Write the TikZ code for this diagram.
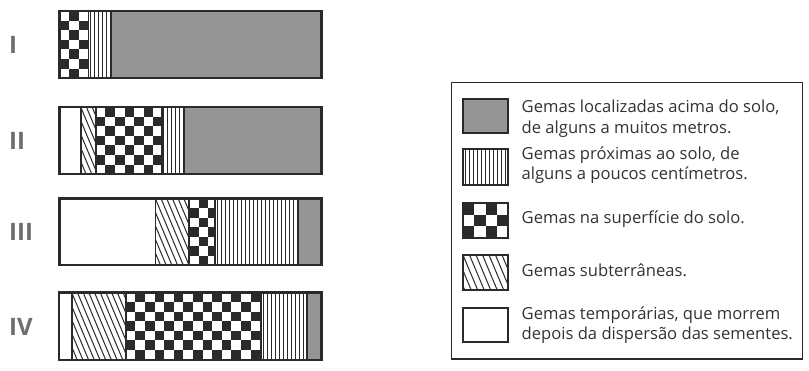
\documentclass[tikz,border=0pt]{standalone}
\usepackage{fontspec}
\setmainfont{Open Sans}
\definecolor{barfill}{HTML}{959595}
\definecolor{ink}{HTML}{2A2A2A}
\definecolor{txt}{HTML}{333333}
\definecolor{lbl}{HTML}{6E6E6E}
\tikzset{
  outline/.style={draw=ink, line width=2.2pt},
  sepline/.style={draw=ink, line width=1.6pt},
  hatchline/.style={draw=ink, line width=1.0pt},
  vline/.style={draw=ink, line width=0.8pt},
  legtext/.style={anchor=base west, text=txt, font=\fontsize{16.6}{20}\selectfont, inner sep=0pt},
  rowlabel/.style={anchor=base west, text=lbl, font=\bfseries\fontsize{24}{30}\selectfont, inner sep=0pt},
}
% #1 x1, #2 x2, #3 y1, #4 y2
\newcommand\grayseg[4]{\fill[barfill] (#1,#3) rectangle (#2,#4);}
\newcommand\vlineseg[4]{%
  \begin{scope}\clip (#1,#3) rectangle (#2,#4);
    \fill[white] (#1,#3) rectangle (#2,#4);
    \foreach \i in {0,...,30}{\draw[vline] (#1+2+4*\i,#3) -- (#1+2+4*\i,#4);}
  \end{scope}}
% #5 square size, #6 parity
\newcommand\checkseg[6]{%
  \begin{scope}\clip (#1,#3) rectangle (#2,#4);
    \fill[white] (#1,#3) rectangle (#2,#4);
    \foreach \i in {0,...,15}{\foreach \j in {0,...,7}{%
      \ifodd\numexpr\i+\j+#6\relax
        \fill[ink] (#1+#5*\i,#3+#5*\j) rectangle ++(#5,#5);
      \fi}}
  \end{scope}}
% #5 horizontal spacing
\newcommand\hatchseg[5]{%
  \begin{scope}\clip (#1,#3) rectangle (#2,#4);
    \fill[white] (#1,#3) rectangle (#2,#4);
    \foreach \i in {-12,...,30}{\draw[hatchline] (#1+#5*\i,#3) -- ++(0.42*#4-0.42*#3,#4-#3);}
  \end{scope}}
\begin{document}
\begin{tikzpicture}[x=1pt,y=-1pt]
\useasboundingbox (0,0) rectangle (809,371);
\fill[white] (0,0) rectangle (809,371);
% ---------- Bar I ----------
\checkseg{59.5}{88.3}{11}{78}{9.6}{0}
\vlineseg{88.3}{111}{11}{78}
\grayseg{111}{321.5}{11}{78}
\draw[sepline] (88.3,11) -- (88.3,78) (111,11) -- (111,78);
\draw[outline] (59.5,11) rectangle (321.5,78);
% ---------- Bar II ----------
\hatchseg{80.7}{95.7}{107}{174}{5.7}
\checkseg{95.7}{161.7}{107}{174}{9.6}{0}
\vlineseg{161.7}{184}{107}{174}
\grayseg{184}{321.5}{107}{174}
\draw[sepline] (80.7,107) -- (80.7,174) (95.7,107) -- (95.7,174) (161.7,107) -- (161.7,174) (184,107) -- (184,174);
\draw[outline] (59.5,107) rectangle (321.5,174);
% ---------- Bar III ----------
\hatchseg{155.3}{189}{198.5}{265.3}{5.7}
\checkseg{189}{215}{198.5}{265.3}{9.6}{0}
\vlineseg{215}{298.3}{198.5}{265.3}
\grayseg{298.3}{321.5}{198.5}{265.3}
\draw[sepline] (155.3,198.5) -- (155.3,265.3) (189,198.5) -- (189,265.3) (215,198.5) -- (215,265.3) (298.3,198.5) -- (298.3,265.3);
\draw[outline] (59.5,198.5) rectangle (321.5,265.3);
% ---------- Bar IV ----------
\hatchseg{71.7}{125.7}{292.5}{360}{5.7}
\checkseg{125.7}{261}{292.5}{360}{9.6}{0}
\vlineseg{261}{306.7}{292.5}{360}
\grayseg{306.7}{321.5}{292.5}{360}
\draw[sepline] (71.7,292.5) -- (71.7,360) (125.7,292.5) -- (125.7,360) (261,292.5) -- (261,360) (306.7,292.5) -- (306.7,360);
\draw[outline] (59,292.5) rectangle (321.5,360);
% ---------- Row labels ----------
\node[rowlabel] (l1) at (9,53.3) {I};
\node[rowlabel] (l2) at (9,150) {II};
\node[rowlabel] (l3) at (9,240.7) {III};
\node[rowlabel] (l4) at (9,336) {IV};
% ---------- Legend ----------
\draw[draw=ink, line width=1.5pt] (451.7,82.7) rectangle (802.7,359);
\grayseg{463}{508}{99}{132.7}
\draw[outline, line width=2pt] (463,99) rectangle (508,132.7);
\vlineseg{463}{508}{149}{185}
\draw[outline, line width=2pt] (463,149) rectangle (508,185);
\checkseg{463}{508}{203.3}{238}{11.4}{1}
\draw[outline, line width=2pt] (463,203.3) rectangle (508,238);
\hatchseg{463}{508}{255}{290.5}{6.5}
\draw[outline, line width=2pt] (463,255) rectangle (508,290.5);
\draw[outline, line width=2pt] (463,308.3) rectangle (508,341.7);
\node[legtext] (t1a) at (521.5,113) {Gemas localizadas acima do solo,};
\node[legtext] (t1b) at (521.5,133.3) {de alguns a muitos metros.};
\node[legtext] (t2a) at (521.5,159.3) {Gemas próximas ao solo, de};
\node[legtext] (t2b) at (521.5,180) {alguns a poucos centímetros.};
\node[legtext] (t3) at (521.5,223.3) {Gemas na superfície do solo.};
\node[legtext] (t4) at (521.5,276.7) {Gemas subterrâneas.};
\node[legtext] (t5a) at (521.5,320) {Gemas temporárias, que morrem};
\node[legtext] (t5b) at (521.5,340) {depois da dispersão das sementes.};
\end{tikzpicture}
\end{document}
